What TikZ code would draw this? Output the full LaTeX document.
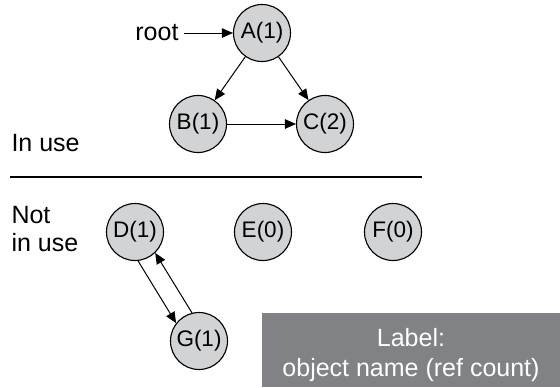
\documentclass[tikz,border=0pt]{standalone}
\usepackage{fontspec}
\setmainfont{Liberation Sans}
\usetikzlibrary{arrows.meta}
\definecolor{objgrey}{HTML}{D1D3D4}
\definecolor{keygrey}{HTML}{808285}

\begin{document}
\begin{tikzpicture}[x=0.4pt, y=-0.4pt,
        obj/.style={circle, draw, line width=0.45pt, fill=objgrey, minimum size=22.8pt,
            inner sep=0pt, font=\fontsize{9}{11}\selectfont},
        ref/.style={-{Triangle[length=4.4pt, width=3.8pt]}, line width=0.4pt},
        lbl/.style={inner sep=0pt, font=\fontsize{10}{11}\selectfont}]
        \useasboundingbox (0,0) rectangle (560,387);

        % Objects in use
        \node[obj] (A) at (262,33) {A(1)};
        \node[obj] (B) at (198,124) {B(1)};
        \node[obj] (C) at (325,124) {C(2)};
        \node[lbl, anchor=east, inner sep=2pt] (root) at (184,33) {root};
        \draw[ref] (root) -- (A);
        \draw[ref] (A) -- (B);
        \draw[ref] (A) -- (C);
        \draw[ref] (B) -- (C);
        \node[lbl, anchor=west] (inuse) at (11,143) {In use};

        % Separator
        \draw[line width=0.6pt] (10,177) -- (422,177);

        % Objects not in use
        \node[lbl, anchor=west, align=left] (notuse) at (11,229) {Not\\in use};
        \node[obj] (D) at (135,232) {D(1)};
        \node[obj] (E) at (263,232) {E(0)};
        \node[obj] (F) at (393,232) {F(0)};
        \node[obj] (G) at (199,341) {G(1)};
        \draw[ref] (D.-84) -- (G.142);
        \draw[ref] (G.104) -- (D.-46);

        % Key
        \fill[keygrey] (262,313) rectangle (560,387);
        \node[lbl, text=white, align=center, font=\fontsize{10}{12}\selectfont] (key) at (411,355)
            {Label:\\object name (ref count)};
    \end{tikzpicture}
\end{document}
